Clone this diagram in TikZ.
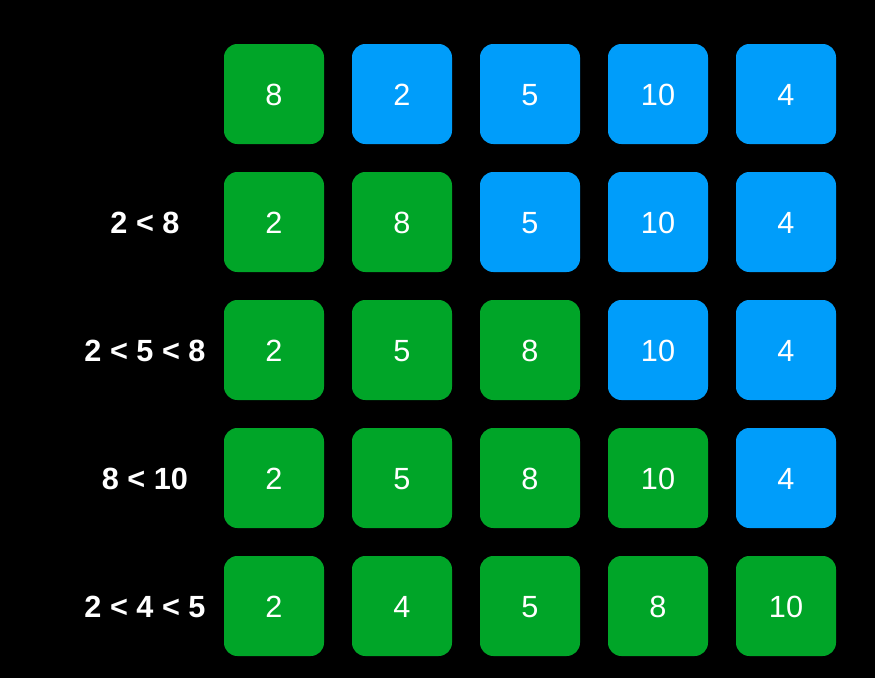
\documentclass[tikz,border=0pt]{standalone}
\usepackage{fontspec}
\setmainfont{Liberation Sans}
\definecolor{gbox}{HTML}{00A528}
\definecolor{bbox}{HTML}{009DFA}
\begin{document}
\begin{tikzpicture}[x=0.75pt,y=-0.75pt,
  cell/.style={minimum width=75pt,minimum height=75pt,rounded corners=10pt,inner sep=0pt,text=white,text height=16.6pt,text depth=0pt,font=\fontsize{23}{27}\selectfont},
  gc/.style={cell,fill=gbox},
  bc/.style={cell,fill=bbox},
  lab/.style={text=white,inner sep=0pt,text height=16.6pt,text depth=0pt,font=\fontsize{23}{27}\selectfont\bfseries}]
\fill[black] (0,0) rectangle (875,678);
\useasboundingbox (0,0) rectangle (875,678);
% row 0
\node[gc] (n00) at (274,94) {8};
\node[bc] (n01) at (402,94) {2};
\node[bc] (n02) at (530,94) {5};
\node[bc] (n03) at (658,94) {10};
\node[bc] (n04) at (786,94) {4};
% row 1
\node[gc] (n10) at (274,222) {2};
\node[gc] (n11) at (402,222) {8};
\node[bc] (n12) at (530,222) {5};
\node[bc] (n13) at (658,222) {10};
\node[bc] (n14) at (786,222) {4};
% row 2
\node[gc] (n20) at (274,350) {2};
\node[gc] (n21) at (402,350) {5};
\node[gc] (n22) at (530,350) {8};
\node[bc] (n23) at (658,350) {10};
\node[bc] (n24) at (786,350) {4};
% row 3
\node[gc] (n30) at (274,478) {2};
\node[gc] (n31) at (402,478) {5};
\node[gc] (n32) at (530,478) {8};
\node[gc] (n33) at (658,478) {10};
\node[bc] (n34) at (786,478) {4};
% row 4
\node[gc] (n40) at (274,606) {2};
\node[gc] (n41) at (402,606) {4};
\node[gc] (n42) at (530,606) {5};
\node[gc] (n43) at (658,606) {8};
\node[gc] (n44) at (786,606) {10};
% labels
\node[lab] (l1) at (145,222) {2 < 8};
\node[lab] (l2) at (145,350) {2 < 5 < 8};
\node[lab] (l3) at (145,478) {8 < 10};
\node[lab] (l4) at (145,606) {2 < 4 < 5};
\end{tikzpicture}
\end{document}
